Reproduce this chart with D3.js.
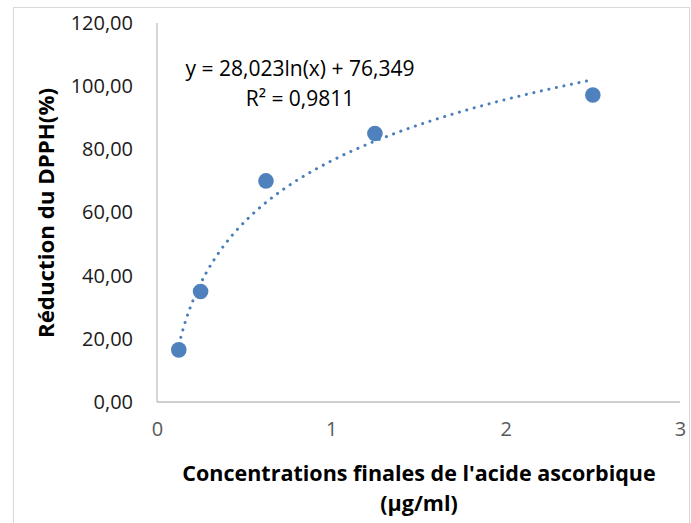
<!DOCTYPE html>
<html><head><meta charset="utf-8">
<script src="https://cdn.jsdelivr.net/npm/d3@7"></script>
<style>body{margin:0;background:#fff}svg{display:block}</style>
</head><body>
<svg id="c" width="691" height="523"></svg>
<script>
const concentrations = [0.125, 0.25, 0.625, 1.25, 2.5];
const reduction = [16.5, 35.0, 70.0, 85.0, 97.2];
const xTicks = [0, 1, 2, 3];
const yTicks = [0, 20, 40, 60, 80, 100, 120];
const trendA = 28.023, trendB = 76.349;
const trendSamples = d3.range(0, 61).map(i => 0.125 + i * (2.5 - 0.125) / 60);
const eqLabel = "y = 28,023ln(x) + 76,349";
const r2Label = "R² = 0,9811";
const xTitle = ["Concentrations finales de l'acide ascorbique", "(µg/ml)"];
const yTitle = "Réduction du DPPH(%)";

const svg = d3.select("#c");
const font = "'Open Sans', sans-serif";
svg.append("rect").attr("x", 13.5).attr("y", 7.5).attr("width", 676).attr("height", 530)
  .attr("fill", "#fff").attr("stroke", "#d9d9d9");

const x = d3.scaleLinear().domain([0, 3]).range([157, 680]);
const y = d3.scaleLinear().domain([0, 120]).range([402, 23]);

// axes
const yAx = svg.append("g").attr("transform", "translate(157,0)")
  .call(d3.axisLeft(y).tickValues(yTicks).tickSize(0).tickPadding(24)
    .tickFormat(d => d3.format(".2f")(d).replace(".", ",")));
const xAx = svg.append("g").attr("transform", "translate(0,402)")
  .call(d3.axisBottom(x).tickValues(xTicks).tickSize(0).tickPadding(20).tickFormat(d3.format("d")));
[yAx, xAx].forEach(g => {
  g.select(".domain").attr("stroke", "#bfbfbf").attr("stroke-width", 1.3);
  g.selectAll("text").attr("font-family", font).attr("font-size", 20);
});
yAx.selectAll("text").attr("fill", "#1a1a1a");
xAx.selectAll("text").attr("fill", "#595959");
xAx.select(".domain").attr("d", "M157,0H680");
yAx.select(".domain").attr("d", "M0,23V402");

// trendline
const line = d3.line().x(d => x(d)).y(d => y(trendA * Math.log(d) + trendB)).curve(d3.curveMonotoneX);
svg.append("path").datum(trendSamples).attr("d", line).attr("fill", "none")
  .attr("stroke", "#4a7ebb").attr("stroke-width", 3).attr("stroke-linecap", "round")
  .attr("stroke-dasharray", "0.1 7.6");

// points
svg.selectAll("circle.pt").data(concentrations).enter().append("circle")
  .attr("class", "pt").attr("cx", d => x(d)).attr("cy", (d, i) => y(reduction[i]))
  .attr("r", 7.8).attr("fill", "#4f81bd");

// equation
svg.append("text").attr("x", 300).attr("y", 76).attr("text-anchor", "middle")
  .attr("font-family", font).attr("font-size", 21).attr("fill", "#000").text(eqLabel);
svg.append("text").attr("x", 300).attr("y", 106).attr("text-anchor", "middle")
  .attr("font-family", font).attr("font-size", 21).attr("fill", "#000").text(r2Label);

// titles
svg.append("text").attr("x", 419).attr("y", 481).attr("text-anchor", "middle")
  .attr("font-family", font).attr("font-weight", "bold").attr("font-size", 21.5).text(xTitle[0]);
svg.append("text").attr("x", 419).attr("y", 511).attr("text-anchor", "middle")
  .attr("font-family", font).attr("font-weight", "bold").attr("font-size", 21.5).text(xTitle[1]);
svg.append("text").attr("transform", "translate(54,213) rotate(-90)").attr("text-anchor", "middle")
  .attr("font-family", font).attr("font-weight", "bold").attr("font-size", 21)
  .attr("textLength", 250).attr("lengthAdjust", "spacingAndGlyphs").text(yTitle);
</script>
</body></html>
